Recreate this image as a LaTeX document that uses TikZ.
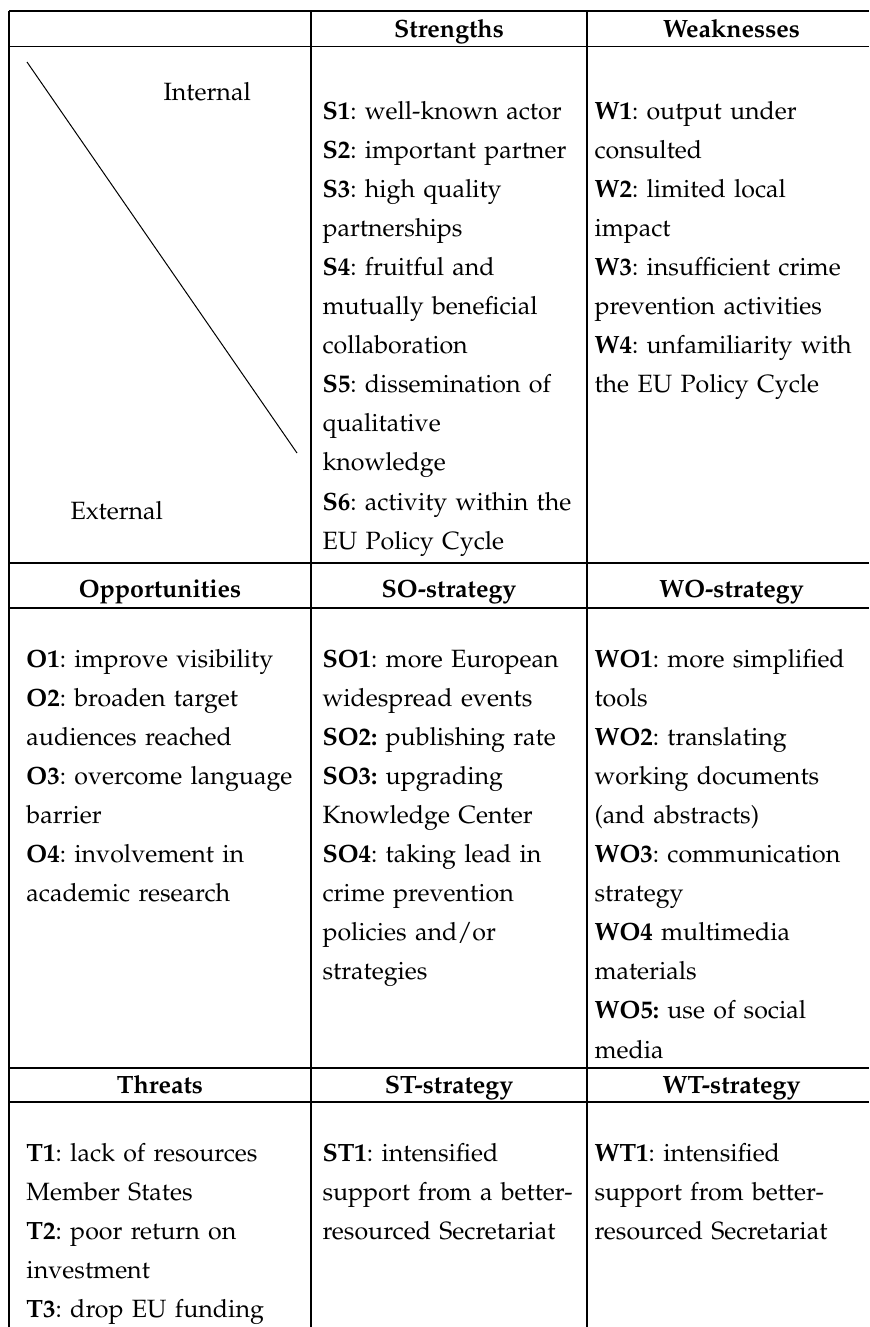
\documentclass[tikz,border=0pt]{standalone}
\usepackage[T1]{fontenc}
\usepackage{mathpazo}
\usetikzlibrary{positioning}
\frenchspacing
\newcommand\swotcell[4]{\node(#1)[cell] at (#2,#3) {#4};}

\begin{document}
\begin{tikzpicture}[x=0.4pt,y=-0.4pt,
    rule/.style={line width=0.75pt},
    cell/.style={anchor=base west,inner sep=0pt,text width=150pt,align=left,
        font=\fontsize{10}{15.64}\selectfont},
    head/.style={anchor=base,inner sep=0pt,font=\fontsize{10}{12}\selectfont\bfseries}]
    \useasboundingbox (0,0) rectangle (869,1327);
    % table rules
    \foreach \y in {11,46.5,563,608,1068,1102}
        \draw[rule] (9,\y) -- (869,\y);
    \foreach \x in {9,311,587}
        \draw[rule] (\x,11) -- (\x,1327);
    % header row
    \node(hs)[head] at (449,37) {Strengths};
    \node(hw)[head] at (731.5,37) {Weaknesses};
    % corner cell
    \node(int)[cell,text width=40pt] at (163,100) {Internal};
    \node(ext)[cell,text width=40pt] at (70,519) {External};
    \coordinate (dtop) at (27,62);
    \coordinate (dbot) at (297,453);
    \draw[line width=0.4pt] (dtop) -- (dbot);
    \swotcell{s}{322}{119}{\textbf{S1}: well-known actor\\
        \textbf{S2}: important partner\\
        \textbf{S3}: high quality\\
        partnerships\\
        \textbf{S4}: fruitful and\\
        mutually beneficial\\
        collaboration\\
        \textbf{S5}: dissemination of\\
        qualitative\\
        knowledge\\
        \textbf{S6}: activity within the\\
        EU Policy Cycle}
    \swotcell{w}{594}{119}{\textbf{W1}: output under\\
        consulted\\
        \textbf{W2}: limited local\\
        impact\\
        \textbf{W3}: insufficient crime\\
        prevention activities\\
        \textbf{W4}: unfamiliarity with\\
        the EU Policy Cycle}
    % opportunities row
    \node(ho)[head] at (160,597) {Opportunities};
    \node(hso)[head] at (449,597) {SO-strategy};
    \node(hwo)[head] at (731.5,597) {WO-strategy};
    \swotcell{o}{26}{667}{\textbf{O1}: improve visibility\\
        \textbf{O2}: broaden target\\
        audiences reached\\
        \textbf{O3}: overcome language\\
        barrier\\
        \textbf{O4}: involvement in\\
        academic research}
    \swotcell{so}{322}{667}{\textbf{SO1}: more European\\
        widespread events\\
        \textbf{SO2:} publishing rate\\
        \textbf{SO3:} upgrading\\
        Knowledge Center\\
        \textbf{SO4}: taking lead in\\
        crime prevention\\
        policies and/or\\
        strategies}
    \swotcell{wo}{594}{667}{\textbf{WO1}: more simplified\\
        tools\\
        \textbf{WO2}: translating\\
        working documents\\
        (and abstracts)\\
        \textbf{WO3}: communication\\
        strategy\\
        \textbf{WO4} multimedia\\
        materials\\
        \textbf{WO5:} use of social\\
        media}
    % threats row
    \node(ht)[head] at (160,1093) {Threats};
    \node(hst)[head] at (449,1093) {ST-strategy};
    \node(hwt)[head] at (731.5,1093) {WT-strategy};
    \swotcell{t}{26}{1161}{\textbf{T1}: lack of resources\\
        Member States\\
        \textbf{T2}: poor return on\\
        investment\\
        \textbf{T3}: drop EU funding}
    \swotcell{st}{322}{1161}{\textbf{ST1}: intensified\\
        support from a better-\\
        resourced Secretariat}
    \swotcell{wt}{594}{1161}{\textbf{WT1}: intensified\\
        support from better-\\
        resourced Secretariat}
\end{tikzpicture}
\end{document}
